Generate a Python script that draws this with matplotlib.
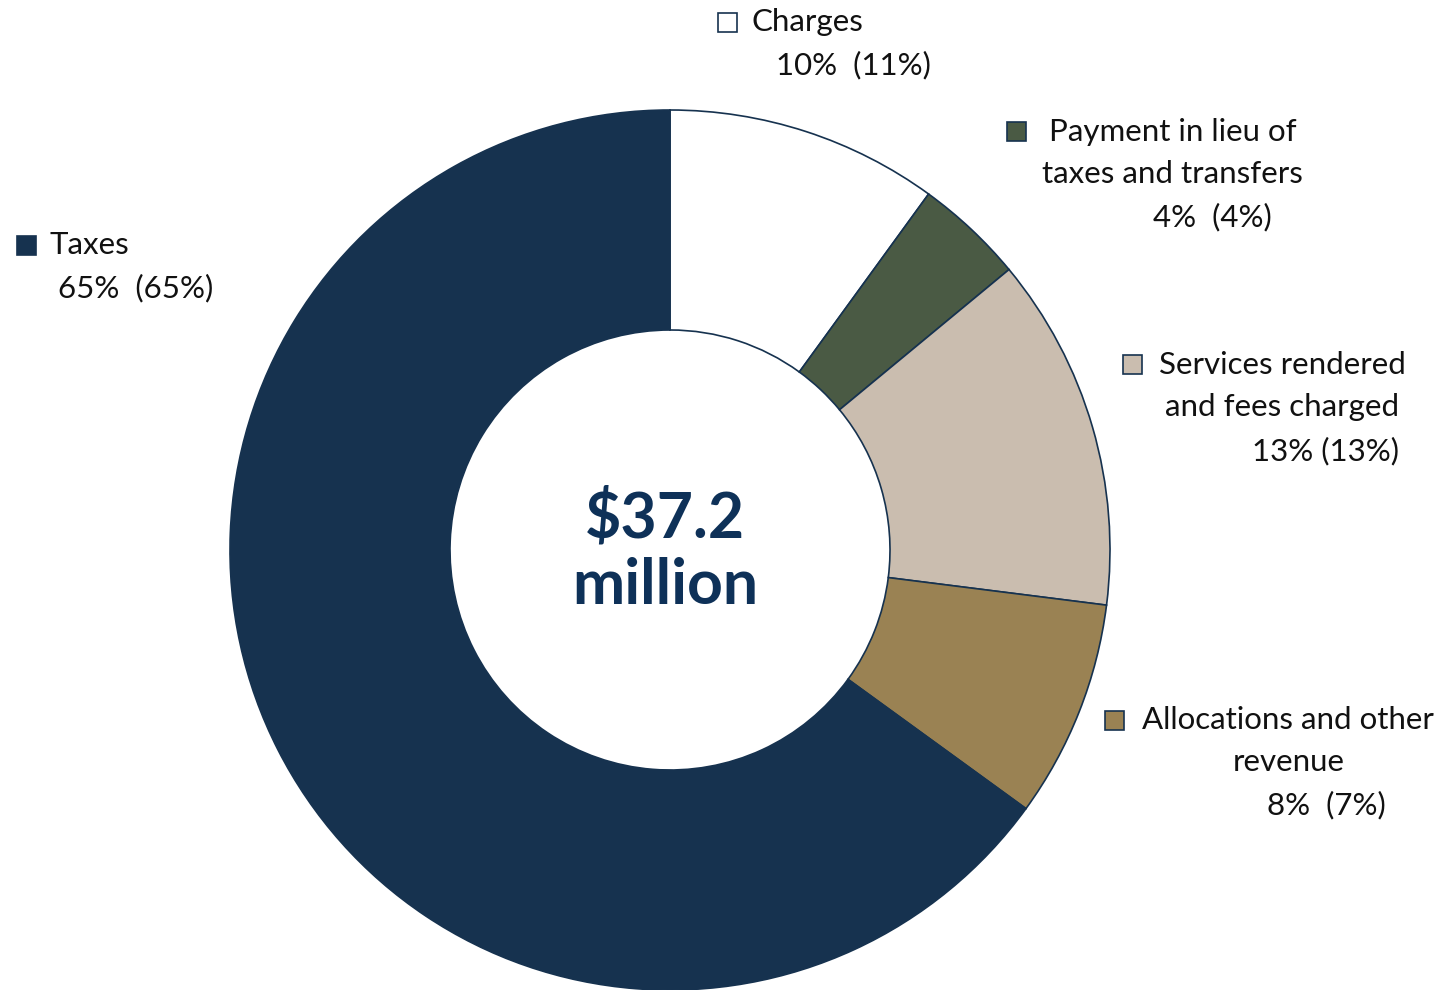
import matplotlib.pyplot as plt
from matplotlib.patches import Rectangle

plt.rcParams["font.family"] = ["Lato", "DejaVu Sans"]

# revenue sources, clockwise from 12 o'clock
categories = ["Charges", "Payment in lieu of\ntaxes and transfers", "Services rendered\nand fees charged",
              "Allocations and other\nrevenue", "Taxes"]
shares = [10, 4, 13, 8, 65]          # current year, %
prior_shares = [11, 4, 13, 7, 65]    # previous year, % (in brackets)
total_label = "$37.2\nmillion"

colors = ["#FFFFFF", "#4A5A44", "#CABDAF", "#9A8253", "#16324F"]
edge = "#16324F"

W, H = 1453, 990
fig = plt.figure(figsize=(W / 100, H / 100), dpi=100)
ax = fig.add_axes([0, 0, 1, 1])

cx, cy, R = 670, H - 550, 440
ax.pie(shares, colors=colors, startangle=90, counterclock=False, radius=R, center=(cx, cy),
       wedgeprops=dict(width=R * 0.5, edgecolor=edge, linewidth=1.2), frame=True)
ax.set_xlim(0, W)
ax.set_ylim(0, H)
ax.set_aspect("equal")
ax.axis("off")

ax.text(cx - 5, cy - 2, total_label, ha="center", va="center", fontsize=45, fontweight="bold",
        color="#0E3158", linespacing=1.18)

# label layout: marker (x, y), then each line's centre x and y (y measured from the top)
label_pos = [
    ((727, 22), [(807, 22), (853, 65)]),
    ((1016, 131), [(1173, 132), (1172, 174), (1212, 217)]),
    ((1132, 364), [(1282, 365), (1282, 407), (1326, 451)]),
    ((1114, 720), [(1288, 720), (1289, 762), (1326, 805)]),
    ((26, 245), [(89, 245), (136, 288)]),
]
gaps = ["  ", "  ", " ", "  ", "  "]

for name, cur, prev, col, gap, (mk, lines) in zip(categories, shares, prior_shares, colors, gaps, label_pos):
    s = 19
    ax.add_patch(Rectangle((mk[0] - s / 2, H - mk[1] - s / 2), s, s, facecolor=col,
                           edgecolor=edge, linewidth=1.2))
    texts = name.split("\n") + [f"{cur}%{gap}({prev}%)"]
    for t, (x, y) in zip(texts, lines):
        ax.text(x, H - y, t, ha="center", va="center", fontsize=22.5, color="#111111")

fig.savefig("out.png", dpi=100)
